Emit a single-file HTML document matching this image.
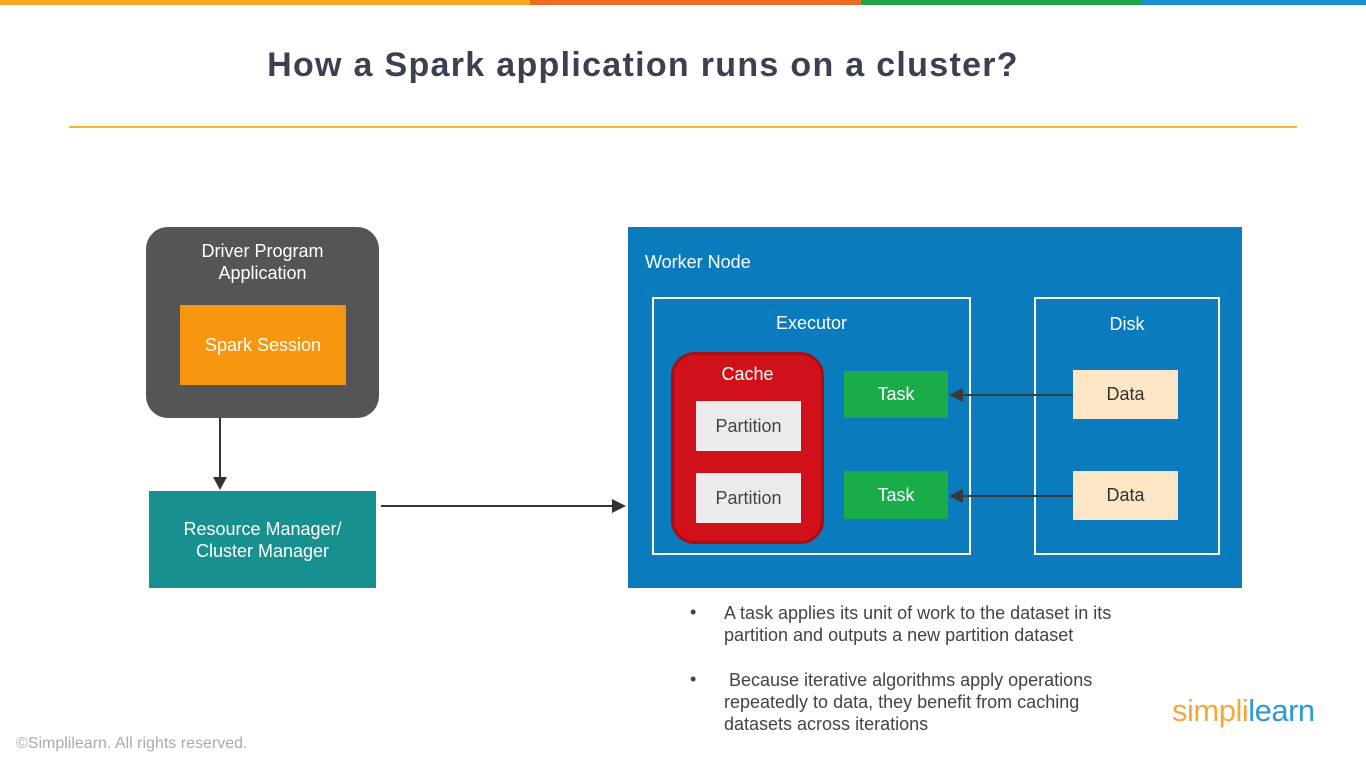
<!DOCTYPE html>
<html><head><style>
body{margin:0;width:1366px;height:768px;background:#fff;position:relative;overflow:hidden;font-family:"Liberation Sans",sans-serif}
div{position:absolute;box-sizing:border-box}
.c{display:flex;align-items:center;justify-content:center;text-align:center}
.w{color:#fff}
</style></head><body>
<div style="left:0;top:0;width:530px;height:5px;background:#f7a823"></div>
<div style="left:530px;top:0;width:331px;height:5px;background:#ef6c23"></div>
<div style="left:861px;top:0;width:281px;height:5px;background:#20a34a"></div>
<div style="left:1142px;top:0;width:224px;height:5px;background:#1c8fd0"></div>
<div style="left:0;top:46px;width:1286px;font-size:34px;font-weight:bold;color:#3b4150;text-align:center;letter-spacing:1.3px">How a Spark application runs on a cluster?</div>
<div style="left:69px;top:126px;width:1228px;height:2px;background:#f0b72f"></div>

<div class="w" style="left:146px;top:227px;width:233px;height:191px;background:#555;border-radius:22px"></div>
<div class="w" style="left:146px;top:240px;width:233px;font-size:18px;text-align:center;line-height:22px">Driver Program<br>Application</div>
<div class="c w" style="left:180px;top:305px;width:166px;height:80px;background:#f7960f;font-size:18px">Spark Session</div>
<div style="left:219px;top:418px;width:2px;height:62px;background:#333"></div>
<svg style="position:absolute;left:213px;top:477px" width="14" height="14"><polygon points="0,0 14,0 7,13" fill="#333"/></svg>
<div class="c w" style="left:149px;top:491px;width:227px;height:97px;background:#17908f;font-size:18px;line-height:22px">Resource Manager/<br>Cluster Manager</div>
<div style="left:381px;top:505px;width:233px;height:2px;background:#333"></div>
<svg style="position:absolute;left:612px;top:499px" width="14" height="14"><polygon points="0,0 14,7 0,14" fill="#333"/></svg>

<div style="left:628px;top:227px;width:614px;height:361px;background:#0a7bbd"></div>
<div class="w" style="left:645px;top:252px;font-size:18px">Worker Node</div>
<div style="left:652px;top:297px;width:319px;height:258px;border:2px solid #fff"></div>
<div class="w" style="left:652px;top:313px;width:319px;text-align:center;font-size:18px">Executor</div>
<div style="left:1034px;top:297px;width:186px;height:258px;border:2px solid #fff"></div>
<div class="w" style="left:1034px;top:314px;width:186px;text-align:center;font-size:18px">Disk</div>
<div style="left:671px;top:352px;width:153px;height:192px;background:#d0111a;border:3px solid #a80d12;border-radius:24px"></div>
<div class="w" style="left:671px;top:364px;width:153px;text-align:center;font-size:18px">Cache</div>
<div class="c" style="left:696px;top:401px;width:105px;height:50px;background:#ebebeb;color:#444;font-size:18px">Partition</div>
<div class="c" style="left:696px;top:473px;width:105px;height:50px;background:#ebebeb;color:#444;font-size:18px">Partition</div>
<div class="c w" style="left:844px;top:371px;width:104px;height:47px;background:#1aab4b;font-size:18px">Task</div>
<div class="c w" style="left:844px;top:471px;width:104px;height:48px;background:#1aab4b;font-size:18px">Task</div>
<div class="c" style="left:1073px;top:370px;width:105px;height:49px;background:#fde6c6;color:#333;font-size:18px">Data</div>
<div class="c" style="left:1073px;top:471px;width:105px;height:49px;background:#fde6c6;color:#333;font-size:18px">Data</div>
<div style="left:962px;top:394px;width:111px;height:2px;background:#3a3a3a"></div>
<svg style="position:absolute;left:949px;top:388px" width="14" height="14"><polygon points="0,7 14,0 14,14" fill="#3a3a3a"/></svg>
<div style="left:962px;top:495px;width:111px;height:2px;background:#3a3a3a"></div>
<svg style="position:absolute;left:949px;top:489px" width="14" height="14"><polygon points="0,7 14,0 14,14" fill="#3a3a3a"/></svg>

<div style="left:690px;top:602px;font-size:18px;color:#444">•</div>
<div style="left:724px;top:602px;font-size:18px;color:#444;line-height:22px;white-space:nowrap">A task applies its unit of work to the dataset in its<br>partition and outputs a new partition dataset</div>
<div style="left:690px;top:669px;font-size:18px;color:#444">•</div>
<div style="left:724px;top:669px;font-size:18px;color:#444;line-height:22px;white-space:nowrap">&nbsp;Because iterative algorithms apply operations<br>repeatedly to data, they benefit from caching<br>datasets across iterations</div>
<div style="left:16px;top:735px;font-size:16px;color:#aaa">©Simplilearn. All rights reserved.</div>
<div style="left:1172px;top:693px;font-size:31px;letter-spacing:-0.5px"><span style="color:#f2a93b">simpl</span><span style="color:#f2a93b">i</span><span style="color:#2d9ad6">learn</span></div>
</body></html>
